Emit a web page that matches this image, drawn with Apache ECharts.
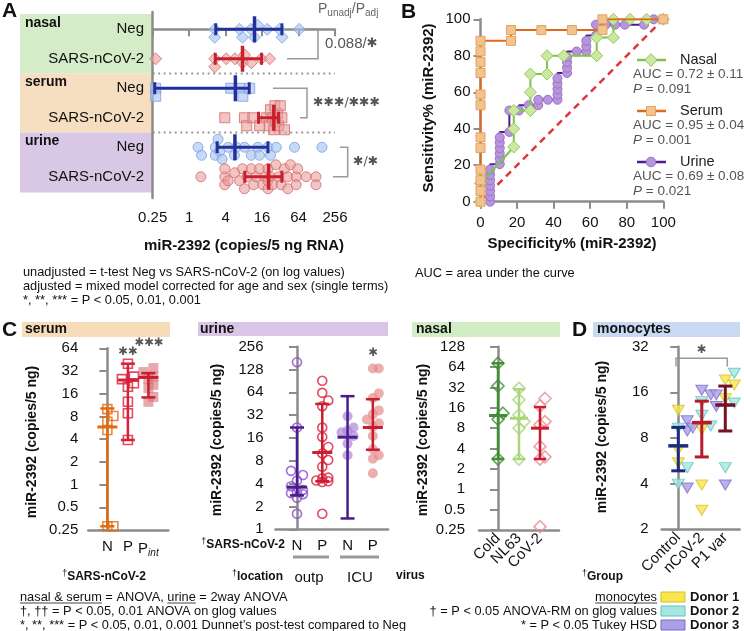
<!DOCTYPE html>
<html><head><meta charset="utf-8"><title>miR-2392</title>
<script src="https://cdn.jsdelivr.net/npm/echarts@6.0.0/dist/echarts.min.js"></script>
<style>html,body{margin:0;padding:0;background:#fff;}#chart{width:744px;height:631px;}</style>
</head><body><div id="chart"></div>
<script>
// ================= DATA =================
// ---- Panel A (copies / 5 ng RNA) ----
const aRowLabels = ['Neg', 'SARS-nCoV-2', 'Neg', 'SARS-nCoV-2', 'Neg', 'SARS-nCoV-2'];
const aTissues = ['nasal', 'serum', 'urine'];
const aTicks = [0.25, 1, 4, 16, 64, 256];
const aNasalNeg = [2.64, 2.64, 6.8, 7.6, 10.4, 12, 13.6, 19.5, 31, 34.3, 66];
const aNasalPos = [0.28, 2.64, 2.64, 4.1, 5.7, 7.6, 8.2, 10.6, 15.5, 21.3];
const aSerumNeg = [0.28, 0.28, 4.86, 6.8, 7.7, 10];
const aSerumPos = [3.87, 8.2, 8.9, 11.3, 14.6, 18.8, 21, 22, 24, 25, 26, 27, 29, 30, 32, 34, 37.5];
const aUrineNeg = [1.4, 1.6, 2.7, 2.7, 3.0, 3.2, 3.5, 4.4, 5.6, 6.0, 8.2, 10.6, 13.6, 14.5, 20, 22, 27.4, 55, 156];
const aUrinePos = [1.56, 3.87, 3.87, 3.87, 4.4, 5.65, 6.8, 7.6, 8.2, 9, 10.6, 11.6, 12.8, 14.5, 16.5, 18, 20, 20, 20, 22, 24, 27, 30, 33, 37.5, 42.5, 42.5, 47, 58.5, 58.5, 62, 85.6, 124, 124];
// mean, low, high per row (top to bottom)
const aStats = [[12, 2.75, 34], [7.6, 2.7, 15.7], [5.8, 0.27, 9.8], [25, 14, 30], [5.7, 2.9, 20], [20.5, 8.3, 34]];
const aPLabels = ['0.088/', '✱✱✱/✱✱✱', '✱/✱'];

// ---- Panel B (ROC, %) ----
const rocNames = ['Nasal', 'Serum', 'Urine'];
const rocAUC = ['AUC = 0.72 ± 0.11', 'AUC = 0.95 ± 0.04', 'AUC = 0.69 ± 0.08'];
const rocP = ['0.091', '0.001', '0.021'];
const rocNasalX = [0, 0, 18.2, 18.2, 18.2, 27.3, 27.3, 27.3, 36.4, 36.4, 45.5, 63.6, 63.6, 72.7, 72.7, 81.8, 90.9, 100];
const rocNasalY = [0, 10, 30, 40, 50, 50, 60, 70, 70, 80, 80, 80, 90, 90, 100, 100, 100, 100];
const rocSerumX = [0, 0, 0, 0, 0, 0, 0, 0, 0, 0, 0, 0, 16.7, 16.7, 33.3, 50, 66.7, 66.7, 100];
const rocSerumY = [0, 5.9, 11.8, 17.6, 29.4, 35.3, 52.9, 58.8, 70.6, 76.5, 82.4, 88.2, 88.2, 94.1, 94.1, 94.1, 94.1, 100, 100];
const rocUrineX = [5.26, 5.26, 5.26, 5.26, 5.26, 5.26, 5.26, 10.53, 10.53, 10.53, 10.53, 10.53, 10.53, 15.79, 15.79, 21.05, 26.32, 31.58, 31.58, 36.84, 42.11, 42.11, 42.11, 42.11, 42.11, 47.37, 47.37, 47.37, 47.37, 52.63, 57.89, 57.89, 57.89, 63.16, 63.16, 68.42, 73.68, 78.95, 89.47, 94.74, 100];
const rocUrineY = [0, 2.94, 5.88, 8.82, 11.76, 14.71, 17.65, 20.59, 23.53, 26.47, 29.41, 32.35, 35.29, 38.24, 50, 50, 52.94, 52.94, 55.88, 55.88, 55.88, 58.82, 61.76, 64.71, 67.65, 70.59, 73.53, 76.47, 79.41, 82.35, 82.35, 85.29, 88.24, 91.18, 97.06, 97.06, 97.06, 97.06, 97.06, 100, 100];

// ---- Panel C serum ----
const serumCats = ['N', 'P', 'Pint'];
const serumN = [0.28, 0.28, 5.3, 6.8, 8.1, 10];
const serumP = [3.9, 8.8, 12.5, 19.8, 22, 25, 27, 40];
const serumPint = [12.5, 14.5, 19, 21, 25, 27, 31, 35];
const serumStats = [[5.8, 0.28, 10.2], [24.3, 3.9, 40], [26.3, 14.3, 30]];
// ---- Panel C urine ----
const urineCats = ['N', 'P', 'N', 'P'];
const urineNoutp = [1.6, 2.6, 2.9, 3.0, 3.1, 3.3, 3.7, 4.4, 5.2, 5.9, 22, 160];
const urinePoutp = [1.6, 4.2, 4.3, 4.4, 4.7, 4.8, 6.7, 8.2, 10, 12.2, 16.5, 22, 42, 50, 63, 91];
const urineNicu = [9.5, 13.5, 17, 19, 20, 22, 31];
const urinePicu = [5.5, 8.5, 9.5, 11.4, 17, 22.5, 25, 28, 33, 37, 54, 62, 132, 132];
const urineStats = [[3.6, 2.8, 22], [10.3, 4.3, 45], [16.4, 1.39, 57], [22, 11.2, 52]];
// ---- Panel C nasal ----
const nasalCats = ['Cold', 'NL63', 'CoV-2'];
const nasalCold = [2.8, 10.8, 13.3, 33.6, 73];
const nasalNL63 = [2.8, 8, 10, 12.5, 21, 31];
const nasalCoV2 = [0.28, 2.8, 3, 4.3, 9, 10, 17, 22];
const nasalStats = [[12.3, 2.8, 73], [11.2, 2.8, 30], [8, 2.8, 16.4]];
// ---- Panel D monocytes ----
const monoCats = ['Control', 'nCoV-2', 'P1 var'];
const monoDonors = ['Donor 1', 'Donor 2', 'Donor 3'];
const monoD1 = [[12.2, 6.7, 5.5], [9.1, 3.92, 2.67], [19.3, 17.9, 14.6]];
const monoD2 = [[9.3, 5.1, 3.97], [13.9, 11.3, 9.6], [21.4, 13.6, 5.1]];
const monoD3 = [[10.4, 8.9, 3.74], [15.4, 16.5, 9.3], [15.4, 12.9, 3.92]];
const monoStats = [[7.1, 4.86, 9.4], [10.1, 6.0, 14], [13.2, 8.9, 17.6]];

// ================= LAYOUT / STYLE =================
const FONT = "'Liberation Sans', Arial, Helvetica, sans-serif";
const NARROW = FONT;
const NS = 12.8;
const STARF = "'DejaVu Sans', sans-serif";
const AX = '#8c8c8c';
const G = [
  { left: 152.7, top: 12, width: 182.3, height: 186 },
  { left: 480.5, top: 19.3, width: 182.8, height: 182.4 },
  { left: 88.3, top: 348.3, width: 80, height: 181.7 },
  { left: 275.5, top: 346.7, width: 112.5, height: 182.6 },
  { left: 479, top: 346.7, width: 80, height: 183.3 },
  { left: 661.7, top: 346.7, width: 78, height: 182.6 }
];
const rowY0 = -0.586, rowY1 = 5.72;
const catRange = [[-0.93, 2.97], [-0.85, 3.6], [-0.905, 2.905], [-0.706, 2.613]];
const logRange = [[0.25, 64], [1, 256], [0.25, 128], [2, 32]];

function measure(text, font) {
  const c = document.createElement('canvas').getContext('2d');
  c.font = font; return c.measureText(text).width;
}
// beeswarm offsets (pixels) so that overlapping points spread sideways
function swarm(vals, pxPerDoubling, r, step, maxOff) {
  const placed = [], offs = [];
  vals.forEach(v => {
    const p = Math.log2(v) * pxPerDoubling;
    let best = 0, bestD = -1, chosen = null;
    for (let k = 0; k < 30; k++) {
      const off = (k % 2 ? 1 : -1) * Math.ceil(k / 2) * step;
      if (Math.abs(off) > maxOff) break;
      let dmin = Infinity;
      placed.forEach(q => { dmin = Math.min(dmin, Math.hypot(q[0] - p, q[1] - off)); });
      if (dmin >= r) { chosen = off; break; }
      if (dmin > bestD) { bestD = dmin; best = off; }
    }
    if (chosen === null) chosen = best;
    placed.push([p, chosen]); offs.push(chosen);
  });
  return offs;
}
const fmtNum = v => String(+(+v).toPrecision(6));

// ================= SERIES =================
const series = [];
const pxA = G[0].width / Math.log2(256 / 0.25);
const aSets = [aNasalNeg, aNasalPos, aSerumNeg, aSerumPos, aUrineNeg, aUrinePos];
const aSym = ['diamond', 'diamond', 'rect', 'rect', 'circle', 'circle'];
const aSize = [12, 12, 10, 10, 10, 10];
aSets.forEach((vals, row) => {
  const neg = row % 2 === 0;
  const offs = swarm(vals, pxA, 8, 4, 12);
  series.push({
    type: 'scatter', xAxisIndex: 0, yAxisIndex: 0, symbol: aSym[row], symbolSize: aSize[row], z: 2, silent: true,
    itemStyle: { color: neg ? 'rgba(166,196,242,0.8)' : 'rgba(234,156,156,0.75)', borderColor: neg ? '#7b9fe0' : '#d26c6c', borderWidth: 1 },
    data: vals.map((v, i) => ({ value: [v, row], symbolOffset: [0, offs[i]] }))
  });
});
function errSeries(gi, rows, colors, horiz, mHalf, cHalf, lw) {
  return {
    type: 'custom', xAxisIndex: gi, yAxisIndex: gi, z: 6, silent: true,
    data: rows, encode: horiz ? { x: [1, 2, 3], y: 0 } : { x: 0, y: [1, 2, 3] },
    renderItem(params, api) {
      const c = api.value(0), m = api.value(1), lo = api.value(2), hi = api.value(3);
      const col = colors[params.dataIndex];
      const P = v => horiz ? api.coord([v, c]) : api.coord([c, v]);
      const pm = P(m), pl = P(lo), ph = P(hi);
      const st = { stroke: col, lineWidth: lw };
      const perp = (p, h) => horiz ? { x1: p[0], y1: p[1] - h, x2: p[0], y2: p[1] + h } : { x1: p[0] - h, y1: p[1], x2: p[0] + h, y2: p[1] };
      return { type: 'group', children: [
        { type: 'line', shape: { x1: pl[0], y1: pl[1], x2: ph[0], y2: ph[1] }, style: st },
        { type: 'line', shape: perp(pl, cHalf), style: st },
        { type: 'line', shape: perp(ph, cHalf), style: st },
        { type: 'line', shape: perp(pm, mHalf), style: { stroke: col, lineWidth: lw + 0.5 } }
      ] };
    }
  };
}
series.push(errSeries(0, aStats.map((s, i) => [i, s[0], s[1], s[2]]),
  aStats.map((s, i) => i % 2 === 0 ? '#24309a' : '#c8202c'), true, 13, 6, 3));

// ---- Panel B ----
const zip = (xs, ys) => xs.map((x, i) => [x, ys[i]]);
series.push({ type: 'line', xAxisIndex: 1, yAxisIndex: 1, data: [[0, 0], [100, 100]], symbol: 'none', silent: true, z: 1,
  lineStyle: { color: '#e2343c', width: 2.5, type: [7, 5] } });
series.push({ type: 'line', xAxisIndex: 1, yAxisIndex: 1, name: 'Urine', data: zip(rocUrineX, rocUrineY), step: 'start', z: 2,
  symbol: 'circle', symbolSize: 9, silent: true, lineStyle: { color: '#4a1c8c', width: 2 },
  itemStyle: { color: '#b894dc', borderColor: '#9a74c8', borderWidth: 1 } });
series.push({ type: 'line', xAxisIndex: 1, yAxisIndex: 1, name: 'Nasal', data: zip(rocNasalX, rocNasalY), z: 3,
  symbol: 'diamond', symbolSize: 12, silent: true, lineStyle: { color: '#7cc34d', width: 2 },
  itemStyle: { color: '#cbe8a2', borderColor: '#94ca5c', borderWidth: 1 } });
series.push({ type: 'line', xAxisIndex: 1, yAxisIndex: 1, name: 'Serum', data: zip(rocSerumX, rocSerumY), step: 'start', z: 4,
  symbol: 'rect', symbolSize: 9, silent: true, lineStyle: { color: '#e06a1a', width: 2 },
  itemStyle: { color: '#f3c38e', borderColor: '#e2a262', borderWidth: 1 } });

// ---- Panel C / D scatter groups ----
function pxPer(gi, k) { return G[gi].height / Math.log2(logRange[k][1] / logRange[k][0]); }
function vScatter(gi, k, cat, vals, symbol, size, style, r, step, maxOff, rotate) {
  const offs = swarm(vals, pxPer(gi, k), r, step, maxOff);
  series.push({ type: 'scatter', xAxisIndex: gi, yAxisIndex: gi, symbol, symbolSize: size, symbolRotate: rotate || 0, z: 3, silent: true,
    itemStyle: style, data: vals.map((v, i) => ({ value: [cat, v], symbolOffset: [offs[i], 0] })) });
}
const hollow = (c) => ({ color: 'rgba(255,255,255,0)', borderColor: c, borderWidth: 1.6 });
// serum
vScatter(2, 0, 0, serumN, 'rect', 9, hollow('#e26a12'), 8, 6, 8);
vScatter(2, 0, 1, serumP, 'rect', 9, hollow('#d91f3a'), 8, 6, 8);
vScatter(2, 0, 2, serumPint, 'rect', 10, { color: 'rgba(214,110,118,0.75)' }, 7, 5, 7);
series.push(errSeries(2, serumStats.map((s, i) => [i, s[0], s[1], s[2]]), ['#e26a12', '#d91f3a', '#c81e30'], false, 10, 7, 2.5));
// urine
vScatter(3, 1, 0, urineNoutp, 'circle', 9, hollow('#8c4ccc'), 8, 6, 10);
vScatter(3, 1, 1, urinePoutp, 'circle', 9, hollow('#d91f3a'), 8, 6, 10);
vScatter(3, 1, 2, urineNicu, 'circle', 10, { color: 'rgba(170,130,214,0.85)' }, 8, 6, 10);
vScatter(3, 1, 3, urinePicu, 'circle', 10, { color: 'rgba(228,136,136,0.85)' }, 8, 6, 10);
series.push(errSeries(3, urineStats.map((s, i) => [i, s[0], s[1], s[2]]), ['#4a1c8c', '#c81e30', '#4a1c8c', '#c81e30'], false, 10, 7, 2.5));
// nasal
vScatter(4, 2, 0, nasalCold, 'diamond', 12, hollow('#3f8f32'), 8, 5, 8);
vScatter(4, 2, 1, nasalNL63, 'diamond', 12, hollow('#a9d67a'), 8, 5, 8);
vScatter(4, 2, 2, nasalCoV2, 'diamond', 12, hollow('#e88c94'), 8, 5, 8);
series.push(errSeries(4, nasalStats.map((s, i) => [i, s[0], s[1], s[2]]), ['#3f8f32', '#a9d67a', '#c81e30'], false, 9, 6, 2.5));
// monocytes
const donorStyles = [
  { color: '#f7e552', borderColor: '#d8c21e', borderWidth: 1 },
  { color: '#a6e6e0', borderColor: '#5cc4bc', borderWidth: 1 },
  { color: '#ab9fe6', borderColor: '#7b6bc8', borderWidth: 1 }
];
monoCats.forEach((c, gi) => {
  const vals = [], sty = [];
  [monoD1, monoD2, monoD3].forEach((d, di) => d[gi].forEach(v => { vals.push(v); sty.push(di); }));
  const offs = swarm(vals, pxPer(5, 3), 9, 9, 9);
  series.push({ type: 'scatter', xAxisIndex: 5, yAxisIndex: 5, symbol: 'triangle', symbolRotate: 180, symbolSize: [12, 10], z: 3, silent: true,
    data: vals.map((v, i) => ({ value: [gi, v], symbolOffset: [offs[i], 0], itemStyle: donorStyles[sty[i]] })) });
});
series.push(errSeries(5, monoStats.map((s, i) => [i, s[0], s[1], s[2]]), ['#1c2a84', '#b81c2c', '#741222'], false, 10, 7, 3));

// ================= AXES =================
const axLine = { show: true, lineStyle: { color: AX, width: 2.5 } };
const axTick = (len) => ({ show: true, inside: false, length: len, lineStyle: { color: AX, width: 2 } });
const lab = (extra) => Object.assign({ fontSize: 15, color: '#111', fontFamily: FONT }, extra);
const xAxis = [
  { gridIndex: 0, type: 'log', logBase: 4, min: aTicks[0], max: aTicks[aTicks.length - 1], splitNumber: 5,
    axisLine: axLine, axisTick: axTick(7), splitLine: { show: false }, minorTick: { show: false },
    axisLabel: lab({ margin: 12, formatter: fmtNum }) },
  { gridIndex: 1, type: 'value', min: 0, max: 100, interval: 20, axisLine: axLine, axisTick: axTick(7),
    splitLine: { show: false }, axisLabel: lab({ margin: 14 }) }
];
const catLabelSets = [serumCats, urineCats, nasalCats, monoCats];
catLabelSets.forEach((cats, k) => {
  const rot = k >= 2;
  xAxis.push({ gridIndex: k + 2, type: 'value', min: catRange[k][0], max: catRange[k][1],
    axisLine: axLine, axisTick: { show: false }, splitLine: { show: false },
    axisLabel: lab({ customValues: cats.map((c, i) => i), rotate: rot ? 45 : 0, margin: rot ? 6 : 9,
      formatter: v => { const s = cats[Math.round(v)]; return s === 'Pint' ? '{p|P}{s|int}' : s; },
      rich: { p: { fontSize: 15, fontFamily: FONT, color: '#111' }, s: { fontSize: 10, fontStyle: 'italic', fontFamily: FONT, color: '#111', padding: [9, 0, 0, 0] } } })
  });
});
const yAxis = [
  { gridIndex: 0, type: 'value', min: rowY0, max: rowY1, inverse: true, axisLine: axLine, axisTick: { show: false },
    axisLabel: { show: false }, splitLine: { show: false } },
  { gridIndex: 1, type: 'value', min: 0, max: 100, interval: 20, axisLine: axLine, axisTick: axTick(7),
    splitLine: { show: false }, axisLabel: lab({ margin: 10 }) }
];
const ySplits = [8, 8, 9, 4];
const yMargins = [10, 12, 14, 13];
logRange.forEach((r, k) => {
  yAxis.push({ gridIndex: k + 2, type: 'log', logBase: 2, min: r[0], max: r[1], splitNumber: ySplits[k],
    axisLine: axLine, axisTick: axTick(8), splitLine: { show: false }, minorTick: { show: false },
    axisLabel: lab({ margin: yMargins[k], formatter: fmtNum }) });
});

// ================= GRAPHIC (labels, notes, annotations) =================
const gfx = [];
const T = (x, y, text, o) => gfx.push({ type: 'text', x, y, silent: true, rotation: (o && o.rot) || 0,
  style: Object.assign({ text, fontFamily: FONT, fontSize: 14, fill: '#111', align: 'left', verticalAlign: 'middle' }, o || {}) });
const L = (pts, stroke, w, dash) => gfx.push({ type: 'polyline', silent: true, shape: { points: pts },
  style: { stroke, lineWidth: w, fill: null, lineDash: dash || null } });
const R = (x, y, w, h, fill, stroke) => gfx.push({ type: 'rect', silent: true, shape: { x, y, width: w, height: h },
  style: { fill, stroke: stroke || null, lineWidth: stroke ? 1 : 0 } });

// panel letters
T(2, 11, 'A', { fontSize: 21, fontWeight: 'bold' });
T(401, 12, 'B', { fontSize: 21, fontWeight: 'bold' });
T(2, 330, 'C', { fontSize: 21, fontWeight: 'bold' });
T(572, 330, 'D', { fontSize: 21, fontWeight: 'bold' });

// ---- Panel A decorations ----
const rowPix = i => G[0].top + (i - rowY0) / (rowY1 - rowY0) * G[0].height;
const bandCols = ['#d4ecc8', '#f6dec0', '#d9c8e5'];
[0, 1, 2].forEach(t => {
  const y0 = t === 0 ? 14 : (rowPix(2 * t - 0.5));
  const y1 = t === 2 ? 192.5 : rowPix(2 * t + 1.5);
  R(20, y0, G[0].left - 20, y1 - y0, bandCols[t]);
  T(25, rowPix(2 * t) - 6, aTissues[t], { fontSize: 14, fontWeight: 'bold' });
});
aRowLabels.forEach((s, i) => T(144, rowPix(i), s, { fontSize: 15, align: 'right' }));
[1.5, 3.5].forEach(v => L([[G[0].left, rowPix(v)], [G[0].left + G[0].width, rowPix(v)]], '#9a9a9a', 2, [2, 3.5]));
const BR = '#9a9a9a';
L([[302, rowPix(0)], [318, rowPix(0)], [318, rowPix(1)], [287, rowPix(1)]], BR, 1.5);
L([[273, rowPix(2)], [307, rowPix(2)], [307, rowPix(3)], [300, rowPix(3)]], BR, 1.5);
L([[340, rowPix(4)], [347.7, rowPix(4)], [347.7, rowPix(5)], [333, rowPix(5)]], BR, 1.5);
T(325, (rowPix(0) + rowPix(1)) / 2, '{n|' + aPLabels[0] + '}{s|✱}', { rich: { n: { fontSize: 15, fill: '#555', fontFamily: FONT }, s: { fontSize: 13, fill: '#555', fontFamily: STARF } } });
T(313, (rowPix(2) + rowPix(3)) / 2, aPLabels[1], { fontSize: 12.5, fill: '#555', fontFamily: STARF });
T(353, (rowPix(4) + rowPix(5)) / 2, aPLabels[2], { fontSize: 12.5, fill: '#555', fontFamily: STARF });
T(318, 9, '{p|P}{s|unadj}{p|/P}{s|adj}', { rich: { p: { fontSize: 14, fill: '#666', fontFamily: FONT }, s: { fontSize: 10, fill: '#666', fontFamily: FONT, padding: [8, 0, 0, 0] } } });
T(244, 246, 'miR-2392 (copies/5 ng RNA)', { fontSize: 15, fontWeight: 'bold', align: 'center' });
T(23, 272, 'unadjusted = t-test Neg vs SARS-nCoV-2 (on log values)', { fontSize: NS, fontFamily: NARROW });
T(23, 286, 'adjusted = mixed model corrected for age and sex (single terms)', { fontSize: NS, fontFamily: NARROW });
T(23, 300, '*, **, *** = P < 0.05, 0.01, 0.001', { fontSize: NS, fontFamily: NARROW });

// ---- Panel B decorations ----
T(429, 108, 'Sensitivity% (miR-2392)', { fontSize: 15, fontWeight: 'bold', align: 'center', rot: Math.PI / 2 });
T(572, 244, 'Specificity% (miR-2392)', { fontSize: 15, fontWeight: 'bold', align: 'center' });
T(415, 273, 'AUC = area under the curve', { fontSize: NS, fontFamily: NARROW });
const legY = [60, 111, 162];
const legSty = [
  { sym: 'diamond', line: '#7cc34d', fill: '#cbe8a2', stroke: '#94ca5c' },
  { sym: 'rect', line: '#e06a1a', fill: '#f3c38e', stroke: '#e2a262' },
  { sym: 'circle', line: '#4a1c8c', fill: '#b894dc', stroke: '#9a74c8' }
];
rocNames.forEach((n, i) => {
  const y = legY[i], s = legSty[i];
  L([[637, y], [666, y]], s.line, 2.5);
  if (s.sym === 'diamond') gfx.push({ type: 'polygon', silent: true, shape: { points: [[651, y - 6.5], [657, y], [651, y + 6.5], [645, y]] }, style: { fill: s.fill, stroke: s.stroke } });
  else if (s.sym === 'rect') R(646.5, y - 4.5, 9, 9, s.fill, s.stroke);
  else gfx.push({ type: 'circle', silent: true, shape: { cx: 651, cy: y, r: 4.8 }, style: { fill: s.fill, stroke: s.stroke } });
  T(680, y, n, { fontSize: 14.5, fill: '#222' });
  T(633, y + 14.5, rocAUC[i], { fontSize: 13.5, fill: '#555' });
  T(633, y + 29, '{i|P} = ' + rocP[i], { fontSize: 13.5, fill: '#555', rich: { i: { fontStyle: 'italic', fontSize: 13.5, fill: '#555', fontFamily: FONT } } });
});

// ---- Panel C / D headers ----
R(22, 322, 148, 15, '#f6dcb8'); T(25, 329.5, 'serum', { fontSize: 14, fontWeight: 'bold' });
R(198, 322, 190, 14, '#d9c5e5'); T(200, 329, 'urine', { fontSize: 14, fontWeight: 'bold' });
R(412, 322, 148, 15, '#d2edc6'); T(416, 329.5, 'nasal', { fontSize: 14, fontWeight: 'bold' });
R(593, 322, 147, 15, '#c9d9f1'); T(597, 329.5, 'monocytes', { fontSize: 14, fontWeight: 'bold' });
const YT = 'miR-2392 (copies/5 ng)';
T(32, 442, YT, { fontSize: 14, fontWeight: 'bold', align: 'center', rot: Math.PI / 2 });
T(217, 440, YT, { fontSize: 14, fontWeight: 'bold', align: 'center', rot: Math.PI / 2 });
T(423, 440, YT, { fontSize: 14, fontWeight: 'bold', align: 'center', rot: Math.PI / 2 });
T(602, 437, YT, { fontSize: 14, fontWeight: 'bold', align: 'center', rot: Math.PI / 2 });
// significance stars
T(128, 352, '✱✱', { fontSize: 11.5, fill: '#555', fontFamily: STARF, align: 'center' });
T(149, 343, '✱✱✱', { fontSize: 11.5, fill: '#555', fontFamily: STARF, align: 'center' });
T(373, 353, '✱', { fontSize: 11.5, fill: '#555', fontFamily: STARF, align: 'center' });
L([[676, 366.5], [676, 358.3], [727.3, 358.3], [727.3, 366.5]], BR, 1.5);
T(701.5, 350, '✱', { fontSize: 11.5, fill: '#555', fontFamily: STARF, align: 'center' });
// group labels
const dag = (s, a) => T(a.x, a.y, '{d|†}{b|' + s + '}', { align: a.align, rich: { d: { fontSize: 9, fontFamily: FONT, fill: '#111', padding: [0, 0, 6, 0] }, b: { fontSize: 12, fontWeight: 'bold', fontFamily: FONT, fill: '#111' } } });
dag('SARS-nCoV-2', { x: 104, y: 577, align: 'center' });
dag('SARS-nCoV-2', { x: 285, y: 545, align: 'right' });
dag('location', { x: 283, y: 577, align: 'right' });
dag('Group', { x: 623, y: 577, align: 'right' });
T(396, 576, 'virus', { fontSize: 12, fontWeight: 'bold' });
L([[293, 557], [329, 557]], '#9a9a9a', 3);
L([[340, 557], [379, 557]], '#9a9a9a', 3);
T(309, 578, 'outp', { fontSize: 15, align: 'center' });
T(360, 578, 'ICU', { fontSize: 15, align: 'center' });

// ---- bottom notes ----
const NF = NS + 'px ' + NARROW;
T(20, 597, 'nasal & serum = ANOVA, urine = 2way ANOVA', { fontSize: NS, fontFamily: NARROW });
const w1 = measure('nasal & serum', NF), w2 = measure('nasal & serum = ANOVA, ', NF), w3 = measure('urine', NF);
L([[20, 603], [20 + w1, 603]], '#111', 0.8);
L([[20 + w2, 603], [20 + w2 + w3, 603]], '#111', 0.8);
T(20, 611, '†, †† = P < 0.05, 0.01 ANOVA on glog values', { fontSize: NS, fontFamily: NARROW });
T(20, 625, '*, **, *** = P < 0.05, 0.01, 0.001 Dunnet’s post-test compared to Neg', { fontSize: NS, fontFamily: NARROW });
T(657, 597, 'monocytes', { fontSize: NS, fontFamily: NARROW, align: 'right' });
const wm = measure('monocytes', NF);
L([[657 - wm, 603], [657, 603]], '#111', 0.8);
T(657, 611, '† = P < 0.05 ANOVA-RM on glog values', { fontSize: NS, fontFamily: NARROW, align: 'right' });
T(657, 625, '* = P < 0.05 Tukey HSD', { fontSize: NS, fontFamily: NARROW, align: 'right' });
monoDonors.forEach((d, i) => {
  R(661, 592 + 14 * i, 24, 10, donorStyles[i].color, donorStyles[i].borderColor);
  T(690, 597 + 14 * i, d, { fontSize: 13, fontWeight: 'bold' });
});

// ================= CHART =================
const chart = echarts.init(document.getElementById('chart'), null, { renderer: 'canvas' });
chart.setOption({
  animation: false,
  backgroundColor: '#ffffff',
  textStyle: { fontFamily: FONT },
  grid: G.map(g => Object.assign({ containLabel: false, outerBoundsMode: 'none' }, g)),
  xAxis, yAxis, series, graphic: gfx
});
</script></body></html>
